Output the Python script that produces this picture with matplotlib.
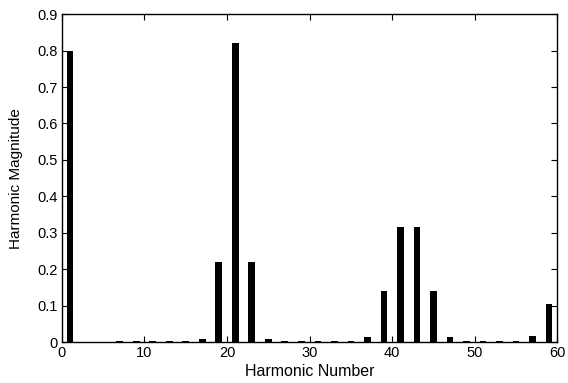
import matplotlib.pyplot as plt
import numpy as np

plt.rcParams['font.family'] = ['Liberation Sans', 'DejaVu Sans']

# odd harmonics and their magnitudes (even harmonics are zero)
harmonics = [1, 3, 5, 7, 9, 11, 13, 15, 17, 19, 21, 23, 25, 27, 29,
             31, 33, 35, 37, 39, 41, 43, 45, 47, 49, 51, 53, 55, 57, 59]
magnitude = [0.80, 0.0, 0.0, 0.002, 0.002, 0.002, 0.002, 0.002, 0.007, 0.22,
             0.82, 0.22, 0.007, 0.002, 0.002, 0.002, 0.002, 0.002, 0.013, 0.14,
             0.315, 0.315, 0.14, 0.013, 0.002, 0.002, 0.002, 0.002, 0.016, 0.105]

x_ticks = [0, 10, 20, 30, 40, 50, 60]
y_ticks = [0, 0.1, 0.2, 0.3, 0.4, 0.5, 0.6, 0.7, 0.8, 0.9]

fig = plt.figure(figsize=(5.68, 3.83), dpi=100)
ax = fig.add_axes([0.109, 0.107, 0.872, 0.856])
ax.bar(harmonics, magnitude, width=0.8, color='black')
ax.set_xlim(0, 60)
ax.set_ylim(0, 0.9)
ax.set_xticks(x_ticks)
ax.set_yticks(y_ticks)
ax.set_yticklabels(['0'] + [f'{v:.1f}' for v in y_ticks[1:]])
ax.tick_params(direction='in', top=True, right=True, length=4, labelsize=10.5, pad=3)
ax.set_xlabel('Harmonic Number', fontsize=11.5, labelpad=3)
ax.set_ylabel('Harmonic Magnitude', fontsize=11, labelpad=10)
for s in ax.spines.values():
    s.set_linewidth(1)

fig.savefig('out.png', dpi=100)
